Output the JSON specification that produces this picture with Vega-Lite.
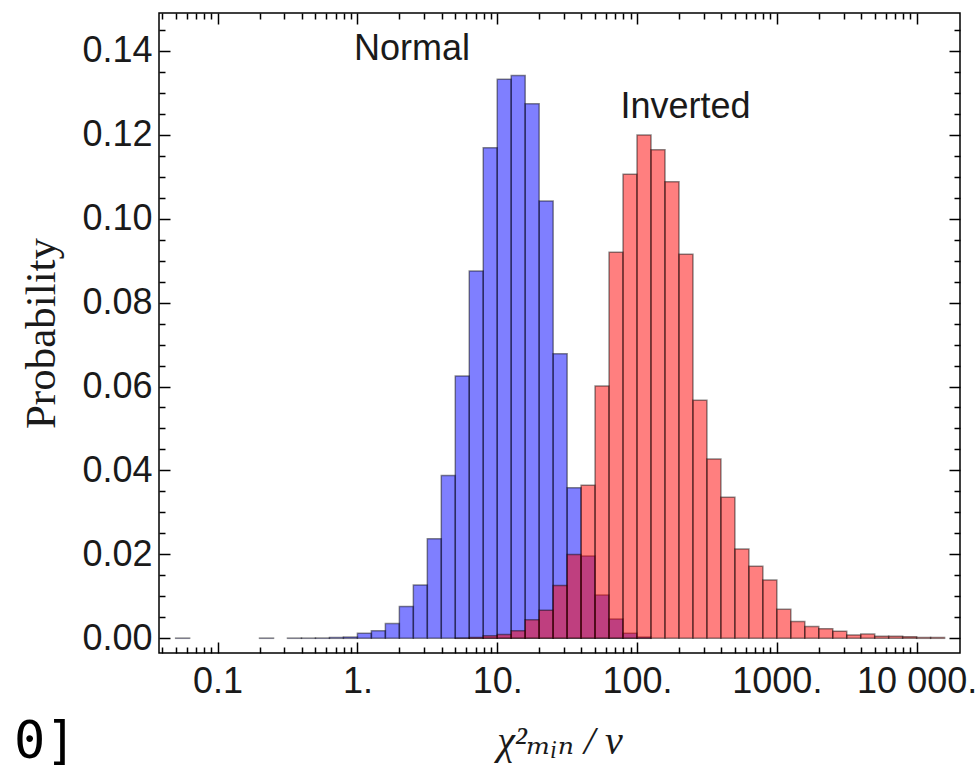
{
  "$schema": "https://vega.github.io/schema/vega-lite/v6.json",
  "width": 801,
  "height": 640,
  "autosize": {"type": "none"},
  "padding": {"left": 159, "top": 13, "right": 19, "bottom": 118},
  "background": "white",
  "config": {
    "view": {"stroke": "black", "strokeWidth": 1.5},
    "axis": {
      "grid": false,
      "domain": false,
      "tickColor": "black",
      "tickWidth": 1.5,
      "labelFont": "Liberation Sans",
      "labelFontSize": 36,
      "labelColor": "#1a1a1a",
      "labelOverlap": false,
      "labelFlush": false,
      "titleColor": "#1a1a1a",
      "titleFontWeight": "normal"
    }
  },
  "datasets": {
    "normal": [
      {"lo": 0.05012, "hi": 0.0631, "p": 0.00005},
      {"lo": 0.1995, "hi": 0.2512, "p": 0.00005},
      {"lo": 0.3162, "hi": 0.3981, "p": 0.00005},
      {"lo": 0.3981, "hi": 0.5012, "p": 0.00005},
      {"lo": 0.5012, "hi": 0.631, "p": 0.00008},
      {"lo": 0.631, "hi": 0.7943, "p": 0.0002},
      {"lo": 0.7943, "hi": 1, "p": 0.0003},
      {"lo": 1, "hi": 1.2589, "p": 0.0012},
      {"lo": 1.2589, "hi": 1.5849, "p": 0.0018},
      {"lo": 1.5849, "hi": 1.9953, "p": 0.0035},
      {"lo": 1.9953, "hi": 2.5119, "p": 0.0076},
      {"lo": 2.5119, "hi": 3.1623, "p": 0.0127},
      {"lo": 3.1623, "hi": 3.9811, "p": 0.0237},
      {"lo": 3.9811, "hi": 5.0119, "p": 0.0388},
      {"lo": 5.0119, "hi": 6.3096, "p": 0.0625},
      {"lo": 6.3096, "hi": 7.9433, "p": 0.0875},
      {"lo": 7.9433, "hi": 10, "p": 0.1169},
      {"lo": 10, "hi": 12.589, "p": 0.1332},
      {"lo": 12.589, "hi": 15.849, "p": 0.1341},
      {"lo": 15.849, "hi": 19.953, "p": 0.1274},
      {"lo": 19.953, "hi": 25.119, "p": 0.1042},
      {"lo": 25.119, "hi": 31.623, "p": 0.0678},
      {"lo": 31.623, "hi": 39.811, "p": 0.0359},
      {"lo": 39.811, "hi": 50.119, "p": 0.0196},
      {"lo": 50.119, "hi": 63.096, "p": 0.0103},
      {"lo": 63.096, "hi": 79.433, "p": 0.0046},
      {"lo": 79.433, "hi": 100, "p": 0.0012},
      {"lo": 100, "hi": 125.89, "p": 0.0003}
    ],
    "inverted": [
      {"lo": 5.0119, "hi": 6.3096, "p": 0.00005},
      {"lo": 6.3096, "hi": 7.9433, "p": 0.0002},
      {"lo": 7.9433, "hi": 10, "p": 0.0006},
      {"lo": 10, "hi": 12.589, "p": 0.0009},
      {"lo": 12.589, "hi": 15.849, "p": 0.0018},
      {"lo": 15.849, "hi": 19.953, "p": 0.0044},
      {"lo": 19.953, "hi": 25.119, "p": 0.0067},
      {"lo": 25.119, "hi": 31.623, "p": 0.0126},
      {"lo": 31.623, "hi": 39.811, "p": 0.02},
      {"lo": 39.811, "hi": 50.119, "p": 0.0365},
      {"lo": 50.119, "hi": 63.096, "p": 0.0601},
      {"lo": 63.096, "hi": 79.433, "p": 0.092},
      {"lo": 79.433, "hi": 100, "p": 0.1106},
      {"lo": 100, "hi": 125.89, "p": 0.1199},
      {"lo": 125.89, "hi": 158.49, "p": 0.1164},
      {"lo": 158.49, "hi": 199.53, "p": 0.1088},
      {"lo": 199.53, "hi": 251.19, "p": 0.0915},
      {"lo": 251.19, "hi": 316.23, "p": 0.0567},
      {"lo": 316.23, "hi": 398.11, "p": 0.0427},
      {"lo": 398.11, "hi": 501.19, "p": 0.0336},
      {"lo": 501.19, "hi": 630.96, "p": 0.0213},
      {"lo": 630.96, "hi": 794.33, "p": 0.0172},
      {"lo": 794.33, "hi": 1000, "p": 0.0139},
      {"lo": 1000, "hi": 1258.9, "p": 0.0069},
      {"lo": 1258.9, "hi": 1584.9, "p": 0.004},
      {"lo": 1584.9, "hi": 1995.3, "p": 0.0028},
      {"lo": 1995.3, "hi": 2511.9, "p": 0.0023},
      {"lo": 2511.9, "hi": 3162.3, "p": 0.0017},
      {"lo": 3162.3, "hi": 3981.1, "p": 0.0008},
      {"lo": 3981.1, "hi": 5011.9, "p": 0.001},
      {"lo": 5011.9, "hi": 6309.6, "p": 0.0005},
      {"lo": 6309.6, "hi": 7943.3, "p": 0.0005},
      {"lo": 7943.3, "hi": 10000, "p": 0.0004},
      {"lo": 10000, "hi": 12589, "p": 0.0002},
      {"lo": 12589, "hi": 15849, "p": 0.0002}
    ],
    "one": [{}]
  },
  "layer": [
    {
      "data": {"name": "normal"},
      "mark": {"type": "bar", "fill": "#0000ff", "fillOpacity": 0.5, "stroke": "#000000", "strokeOpacity": 0.45, "strokeWidth": 1.5},
      "encoding": {
        "x": {
          "field": "lo", "type": "quantitative",
          "scale": {"type": "log", "domain": [0.0381, 20420], "nice": false},
          "axis": {
            "orient": "bottom",
            "values": [0.1, 1, 10, 100, 1000, 10000],
            "tickSize": -11,
            "labelPadding": 22,
            "labelExpr": "datum.value >= 10000 ? '10 000.' : (datum.value < 0.5 ? '0.1' : format(datum.value, 'd') + '.')",
            "title": "χ²ₘᵢₙ / ν",
            "titleFont": "Liberation Serif, DejaVu Serif",
            "titleFontSize": 40,
            "titleFontStyle": "italic",
            "titlePadding": 22
          }
        },
        "x2": {"field": "hi"},
        "y": {
          "field": "p", "type": "quantitative",
          "scale": {"domain": [-0.0035, 0.149], "nice": false, "zero": false},
          "axis": {
            "orient": "left",
            "values": [0, 0.02, 0.04, 0.06, 0.08, 0.1, 0.12, 0.14],
            "format": ".2f",
            "tickSize": -11,
            "labelPadding": 18,
            "title": "Probability",
            "titleFont": "Liberation Serif",
            "titleFontSize": 43,
            "titlePadding": 18
          }
        },
        "y2": {"datum": 0}
      }
    },
    {
      "data": {"name": "inverted"},
      "mark": {"type": "bar", "fill": "#ff0000", "fillOpacity": 0.5, "stroke": "#000000", "strokeOpacity": 0.45, "strokeWidth": 1.5},
      "encoding": {
        "x": {
          "field": "lo", "type": "quantitative",
          "scale": {"type": "log", "domain": [0.0381, 20420], "nice": false},
          "axis": {"orient": "top", "values": [0.1, 1, 10, 100, 1000, 10000], "tickSize": -11, "labels": false, "title": null}
        },
        "x2": {"field": "hi"},
        "y": {
          "field": "p", "type": "quantitative",
          "scale": {"domain": [-0.0035, 0.149], "nice": false, "zero": false},
          "axis": {"orient": "right", "values": [0, 0.02, 0.04, 0.06, 0.08, 0.1, 0.12, 0.14], "tickSize": -11, "labels": false, "title": null}
        },
        "y2": {"datum": 0}
      }
    },
    {
      "data": {"name": "one"},
      "mark": {"type": "text", "font": "Liberation Sans", "fontSize": 36, "color": "#1a1a1a", "align": "center", "baseline": "alphabetic"},
      "encoding": {
        "x": {
          "datum": 2.459, "type": "quantitative",
          "scale": {"type": "log", "domain": [0.0381, 20420], "nice": false},
          "axis": {"orient": "bottom", "values": [0.04, 0.05, 0.06, 0.07, 0.08, 0.09, 0.2, 0.3, 0.4, 0.5, 0.6, 0.7, 0.8, 0.9, 2, 3, 4, 5, 6, 7, 8, 9, 20, 30, 40, 50, 60, 70, 80, 90, 200, 300, 400, 500, 600, 700, 800, 900, 2000, 3000, 4000, 5000, 6000, 7000, 8000, 9000], "tickSize": -6, "labels": false, "title": null}
        },
        "y": {
          "datum": 0.1378, "type": "quantitative",
          "scale": {"domain": [-0.0035, 0.149], "nice": false, "zero": false},
          "axis": {"orient": "left", "values": [0.005, 0.01, 0.015, 0.025, 0.03, 0.035, 0.045, 0.05, 0.055, 0.065, 0.07, 0.075, 0.085, 0.09, 0.095, 0.105, 0.11, 0.115, 0.125, 0.13, 0.135, 0.145], "tickSize": -6, "labels": false, "title": null}
        },
        "text": {"value": "Normal"}
      }
    },
    {
      "data": {"name": "one"},
      "mark": {"type": "text", "font": "Liberation Sans", "fontSize": 36, "color": "#1a1a1a", "align": "center", "baseline": "alphabetic"},
      "encoding": {
        "x": {
          "datum": 222.3, "type": "quantitative",
          "scale": {"type": "log", "domain": [0.0381, 20420], "nice": false},
          "axis": {"orient": "top", "values": [0.04, 0.05, 0.06, 0.07, 0.08, 0.09, 0.2, 0.3, 0.4, 0.5, 0.6, 0.7, 0.8, 0.9, 2, 3, 4, 5, 6, 7, 8, 9, 20, 30, 40, 50, 60, 70, 80, 90, 200, 300, 400, 500, 600, 700, 800, 900, 2000, 3000, 4000, 5000, 6000, 7000, 8000, 9000], "tickSize": -6, "labels": false, "title": null}
        },
        "y": {
          "datum": 0.124, "type": "quantitative",
          "scale": {"domain": [-0.0035, 0.149], "nice": false, "zero": false},
          "axis": {"orient": "right", "values": [0.005, 0.01, 0.015, 0.025, 0.03, 0.035, 0.045, 0.05, 0.055, 0.065, 0.07, 0.075, 0.085, 0.09, 0.095, 0.105, 0.11, 0.115, 0.125, 0.13, 0.135, 0.145], "tickSize": -6, "labels": false, "title": null}
        },
        "text": {"value": "Inverted"}
      }
    },
    {
      "data": {"name": "one"},
      "mark": {"type": "text", "font": "DejaVu Sans Mono", "fontSize": 52, "color": "#000000", "align": "left", "baseline": "alphabetic"},
      "encoding": {
        "x": {"datum": 0.0035, "type": "quantitative", "scale": {"type": "log", "domain": [0.0381, 20420], "nice": false}, "axis": null},
        "y": {"datum": -0.0285, "type": "quantitative", "scale": {"domain": [-0.0035, 0.149], "nice": false, "zero": false}, "axis": null},
        "text": {"value": "0]"}
      }
    }
  ],
  "resolve": {"axis": {"x": "independent", "y": "independent"}}
}
